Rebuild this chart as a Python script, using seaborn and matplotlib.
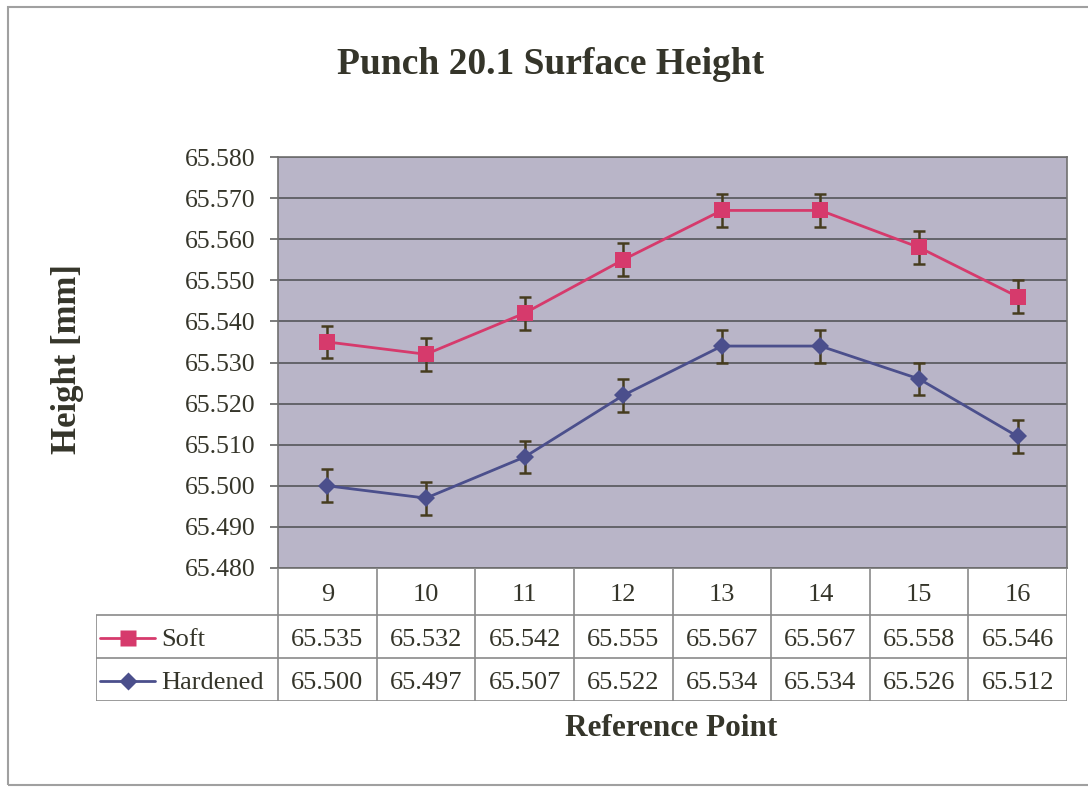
import seaborn as sns
import matplotlib.pyplot as plt
import pandas as pd

# datos del grafico
puntos = ["9", "10", "11", "12", "13", "14", "15", "16"]
soft = [65.535, 65.532, 65.542, 65.555, 65.567, 65.567, 65.558, 65.546]
hardened = [65.500, 65.497, 65.507, 65.522, 65.534, 65.534, 65.526, 65.512]
error = 0.004
series = ["Soft", "Hardened"]

col_soft = "#d63a6c"
col_hard = "#4b4f8c"
col_err = "#463c1e"
col_txt = "#35352a"
fondo = "#b9b5c8"

sns.set_style("white")
plt.rcParams["font.family"] = ["Liberation Serif", "DejaVu Serif"]
plt.rcParams["text.color"] = col_txt

W, H = 1088, 787
fig = plt.figure(figsize=(W / 100, H / 100), dpi=100)

# marco exterior (el borde derecho queda fuera de la imagen)
fig.add_artist(plt.Rectangle((8 / W, 1 - 785 / H), (1100 - 8) / W, (785 - 7) / H,
                             transform=fig.transFigure, fill=False, ec="#a0a0a0", lw=1.5))

x0, x1, y0, y1 = 278, 1067, 157, 568
ax = fig.add_axes([x0 / W, 1 - y1 / H, (x1 - x0) / W, (y1 - y0) / H])
ax.set_facecolor(fondo)

df = pd.DataFrame({
    "pos": list(range(len(puntos))) * 2,
    "valor": soft + hardened,
    "serie": ["Soft"] * len(soft) + ["Hardened"] * len(hardened),
})
paleta = {"Soft": col_soft, "Hardened": col_hard}
marcas = {"Soft": "s", "Hardened": "D"}

for s, vals in zip(series, [soft, hardened]):
    ax.errorbar(range(len(puntos)), vals, yerr=error, fmt="none", ecolor=col_err,
                elinewidth=1.8, capsize=4.5, capthick=1.8, zorder=2)

sns.lineplot(data=df, x="pos", y="valor", hue="serie", style="serie", palette=paleta,
             markers=marcas, dashes=False, markersize=11, linewidth=2,
             markeredgewidth=0, ax=ax, legend=False, zorder=3)
# diamante algo mas pequeno
for ln in ax.lines:
    if ln.get_marker() == "D":
        ln.set_markersize(9)

ax.set_xlim(-0.5, len(puntos) - 0.5)
ax.set_ylim(65.480, 65.580)
ax.set_yticks([65.480 + 0.010 * i for i in range(11)])
ax.set_yticklabels([f"{65.480 + 0.010 * i:.3f}" for i in range(11)], fontsize=18.5, color=col_txt)
ax.set_xticks([])
ax.set_xlabel("")
ax.set_ylabel("")
ax.yaxis.grid(True, color="#55555a", lw=1.2)
ax.set_axisbelow(True)
ax.tick_params(axis="y", length=6, width=1.2, color="#666666", direction="out", left=True, pad=10)
for sp in ax.spines.values():
    sp.set_color("#707070")
    sp.set_linewidth(1.2)

# tabla de datos
t0, t1 = 96, 1067
ty0, ty1 = 568, 701
cw = (x1 - x0) / len(puntos)
xl = -0.5 - (x0 - t0) / cw
tax = fig.add_axes([t0 / W, 1 - ty1 / H, (t1 - t0) / W, (ty1 - ty0) / H])
tax.set_xlim(xl, len(puntos) - 0.5)
tax.set_ylim(ty1, ty0)
tax.axis("off")
lc = "#8a8a8a"
fil = [568, 615, 658, 701]
tax.hlines(fil[1:], xl, len(puntos) - 0.5, color=lc, lw=1.2)
tax.vlines([i - 0.5 for i in range(len(puntos) + 1)], fil[0], fil[3], color=lc, lw=1.2)
tax.vlines(xl, fil[1], fil[3], color=lc, lw=1.2)
for i, p in enumerate(puntos):
    tax.text(i, (fil[0] + fil[1]) / 2 + 1, p, ha="center", va="center_baseline", fontsize=19)
    for r, vals in enumerate([soft, hardened]):
        tax.text(i, (fil[r + 1] + fil[r + 2]) / 2 + 1, f"{vals[i]:.3f}", ha="center",
                 va="center_baseline", fontsize=19)
for r, s in enumerate(series):
    yc = (fil[r + 1] + fil[r + 2]) / 2 + 1
    tax.plot([xl + 0.04, xl + 0.6], [yc, yc], color=paleta[s], lw=2)
    tax.plot([xl + 0.32], [yc], marker=marcas[s], color=paleta[s],
             markersize=11 if s == "Soft" else 9, mec="none")
    tax.text(xl + 0.66, yc, s, ha="left", va="center_baseline", fontsize=19)

fig.text(551 / W, 1 - 64 / H, "Punch 20.1 Surface Height", ha="center", va="center",
         fontsize=27, fontweight="bold")
fig.text(68 / W, 1 - 359 / H, "Height [mm]", ha="center", va="center", rotation=90,
         fontsize=25, fontweight="bold")
fig.text(671 / W, 1 - 729 / H, "Reference Point", ha="center", va="center",
         fontsize=22.5, fontweight="bold")

fig.savefig("out.png", dpi=100, facecolor="white")
